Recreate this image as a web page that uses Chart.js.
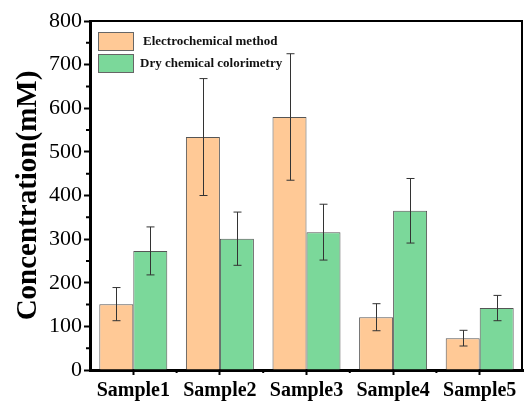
<!DOCTYPE html>
<html>
<head>
<meta charset="utf-8">
<script src="https://cdn.jsdelivr.net/npm/chart.js@4.4.0/dist/chart.umd.min.js"></script>
<style>
  html, body { margin: 0; padding: 0; background: #fff; }
  #wrap { width: 524px; height: 403px; }
</style>
</head>
<body>
<div id="wrap"><canvas id="chart"></canvas></div>
<script>
const samples = ['Sample1', 'Sample2', 'Sample3', 'Sample4', 'Sample5'];
const seriesNames = ['Electrochemical method', 'Dry chemical colorimetry'];
const electroValues = [151, 534, 580, 121, 73];
const electroErrors = [38, 134, 145, 31, 18];
const dryValues = [273, 301, 316, 365, 142];
const dryErrors = [55, 61, 64, 74, 29];
const yTicks = [0, 100, 200, 300, 400, 500, 600, 700, 800];

const fillColors = ['#FFC996', '#7BD89A'];
const errorSets = [electroErrors, dryErrors];

// whiskers drawn on top of every bar
const errorBars = {
  id: 'errorBars',
  afterDatasetsDraw(chart) {
    const ctx = chart.ctx;
    const y = chart.scales.y;
    ctx.save();
    ctx.strokeStyle = '#333';
    ctx.lineWidth = 1;
    chart.data.datasets.forEach((ds, i) => {
      const meta = chart.getDatasetMeta(i);
      meta.data.forEach((bar, j) => {
        const v = ds.data[j];
        const e = errorSets[i][j];
        const top = y.getPixelForValue(v + e);
        const bot = y.getPixelForValue(v - e);
        const x = Math.round(bar.x) + 0.5;
        ctx.beginPath();
        ctx.moveTo(x, top); ctx.lineTo(x, bot);
        ctx.moveTo(x - 4, top); ctx.lineTo(x + 4, top);
        ctx.moveTo(x - 4, bot); ctx.lineTo(x + 4, bot);
        ctx.stroke();
      });
    });
    ctx.restore();
  }
};

// frame, minor ticks and the legend inside the plot
const frame = {
  id: 'frame',
  afterDraw(chart) {
    const ctx = chart.ctx;
    const a = chart.chartArea;
    const x = chart.scales.x;
    const y = chart.scales.y;
    ctx.save();
    ctx.strokeStyle = '#000';
    ctx.lineWidth = 2;
    ctx.beginPath();
    ctx.moveTo(a.left, a.top); ctx.lineTo(a.right - 1, a.top); ctx.lineTo(a.right - 1, a.bottom);
    ctx.stroke();

    ctx.lineWidth = 2;
    ctx.beginPath();
    for (let v = 50; v < 800; v += 100) {
      const py = y.getPixelForValue(v);
      ctx.moveTo(a.left - 4, py); ctx.lineTo(a.left, py);
    }
    for (let k = 1; k < samples.length; k++) {
      const px = (x.getPixelForValue(k - 1) + x.getPixelForValue(k)) / 2;
      ctx.moveTo(px, a.bottom); ctx.lineTo(px, a.bottom + 3);
    }
    ctx.stroke();

    ctx.font = 'bold 13px "Liberation Serif"';
    ctx.textBaseline = 'middle';
    seriesNames.forEach((name, i) => {
      const by = a.top + 11 + i * 22;
      ctx.fillStyle = fillColors[i];
      ctx.fillRect(a.left + 8, by, 35, 18);
      ctx.strokeStyle = '#666';
      ctx.lineWidth = 1;
      ctx.strokeRect(a.left + 8.5, by + 0.5, 35, 18);
      ctx.fillStyle = '#111';
      ctx.fillText(name, a.left + 53 - (i === 1 ? 3 : 0), by + 10);
    });
    ctx.restore();
  }
};

new Chart(document.getElementById('chart'), {
  type: 'bar',
  data: {
    labels: samples,
    datasets: [
      { label: seriesNames[0], data: electroValues, backgroundColor: fillColors[0],
        borderColor: '#555', borderWidth: 1 },
      { label: seriesNames[1], data: dryValues, backgroundColor: fillColors[1],
        borderColor: '#555', borderWidth: 1 }
    ]
  },
  options: {
    responsive: true,
    maintainAspectRatio: false,
    animation: false,
    layout: { padding: { top: 21, right: 1, left: 0, bottom: 0 } },
    datasets: { bar: { categoryPercentage: 0.785, barPercentage: 1 } },
    plugins: { legend: { display: false }, tooltip: { enabled: false } },
    scales: {
      x: {
        afterFit(s) { s.height = 33; },
        grid: { display: true, drawOnChartArea: false, offset: false, tickLength: 5, tickWidth: 2, tickColor: '#000' },
        border: { display: true, color: '#000', width: 3 },
        ticks: { color: '#000', padding: 4, font: { family: 'Liberation Serif', size: 20, weight: 'bold' } }
      },
      y: {
        min: 0,
        max: 800,
        afterFit(s) { s.width = 90; },
        afterBuildTicks(s) { s.ticks = yTicks.map(v => ({ value: v })); },
        grid: { display: true, drawOnChartArea: false, tickLength: 6, tickWidth: 2, tickColor: '#000' },
        border: { display: true, color: '#000', width: 3 },
        ticks: { color: '#000', padding: 2, font: { family: 'Liberation Serif', size: 22 } },
        title: {
          display: true,
          text: 'Concentration(mM)',
          color: '#000',
          padding: { top: 11, bottom: 0 },
          font: { family: 'Liberation Serif', size: 29, weight: 'bold' }
        }
      }
    }
  },
  plugins: [errorBars, frame]
});
</script>
</body>
</html>
